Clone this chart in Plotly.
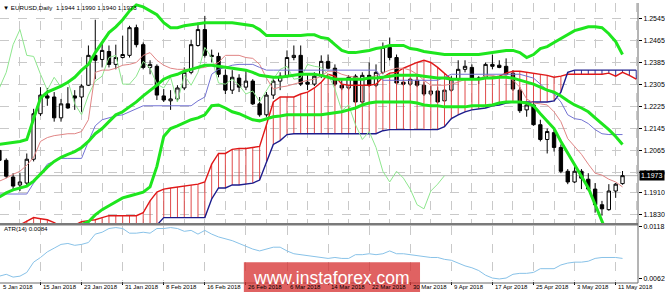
import pandas as pd
import plotly.graph_objects as go

# ---------------- data ----------------
dates = pd.bdate_range("2018-01-05", "2018-05-14")  # 92 daily bars

open_ = [1.2065,1.2029,1.1968,1.1939,1.1946,1.2033,1.2199,1.2264,1.2260,1.2184,
         1.2235,1.2264,1.2260,1.2303,1.2412,1.2397,1.2426,1.2379,1.2404,1.2412,
         1.2513,1.2451,1.2368,1.2372,1.2264,1.2246,1.2253,1.2293,1.2350,1.2448,
         1.2506,1.2412,1.2408,1.2339,1.2285,1.2329,1.2296,1.2318,1.2235,1.2195,
         1.2267,1.2318,1.2336,1.2404,1.2412,1.2314,1.2307,1.2336,1.2390,1.2365,
         1.2303,1.2293,1.2336,1.2242,1.2339,1.2303,1.2350,1.2441,1.2404,1.2314,
         1.2307,1.2321,1.2303,1.2271,1.2282,1.2246,1.2285,1.2325,1.2361,1.2368,
         1.2325,1.2332,1.2379,1.2376,1.2372,1.2347,1.2285,1.2213,1.2231,1.2159,
         1.2105,1.2130,1.2076,1.1989,1.1950,1.1989,1.1960,1.1924,1.1867,1.1849,
         1.1917,1.1944]
high = [1.2087,1.2036,1.1982,1.1982,1.2054,1.2217,1.2296,1.2293,1.2278,1.2253,
        1.2296,1.2285,1.2307,1.2448,1.2542,1.2459,1.2448,1.2451,1.2484,1.2520,
        1.2524,1.2459,1.2394,1.2379,1.2289,1.2285,1.2303,1.2368,1.2469,1.2531,
        1.2556,1.2433,1.2422,1.2361,1.2358,1.2343,1.2361,1.2325,1.2260,1.2278,
        1.2332,1.2350,1.2430,1.2448,1.2448,1.2343,1.2350,1.2412,1.2415,1.2379,
        1.2321,1.2339,1.2343,1.2350,1.2386,1.2379,1.2459,1.2477,1.2415,1.2332,
        1.2329,1.2336,1.2314,1.2300,1.2296,1.2314,1.2336,1.2394,1.2394,1.2379,
        1.2336,1.2386,1.2415,1.2394,1.2401,1.2358,1.2296,1.2242,1.2242,1.2177,
        1.2145,1.2141,1.2087,1.1997,1.2011,1.1997,1.1982,1.1946,1.1881,1.1942,
        1.1946,1.1990]
low = [1.2018,1.1964,1.1917,1.1917,1.1935,1.2025,1.2191,1.2228,1.2170,1.2170,
       1.2217,1.2213,1.2206,1.2300,1.2325,1.2368,1.2368,1.2361,1.2401,1.2404,
       1.2441,1.2361,1.2343,1.2249,1.2242,1.2213,1.2242,1.2285,1.2343,1.2444,
       1.2404,1.2386,1.2332,1.2271,1.2271,1.2278,1.2285,1.2231,1.2188,1.2188,
       1.2253,1.2285,1.2329,1.2394,1.2300,1.2285,1.2300,1.2329,1.2361,1.2300,
       1.2285,1.2285,1.2235,1.2235,1.2296,1.2296,1.2343,1.2394,1.2303,1.2300,
       1.2300,1.2296,1.2264,1.2264,1.2238,1.2242,1.2278,1.2318,1.2350,1.2321,
       1.2307,1.2325,1.2361,1.2365,1.2343,1.2282,1.2202,1.2188,1.2155,1.2098,
       1.2054,1.2061,1.1982,1.1942,1.1946,1.1924,1.1917,1.1838,1.1827,1.1845,
       1.1892,1.1940]
close = [1.2029,1.1971,1.1935,1.1950,1.2033,1.2199,1.2267,1.2256,1.2184,1.2235,
         1.2220,1.2256,1.2300,1.2412,1.2394,1.2430,1.2379,1.2404,1.2415,1.2513,
         1.2451,1.2368,1.2379,1.2267,1.2249,1.2253,1.2293,1.2350,1.2451,1.2506,
         1.2412,1.2408,1.2343,1.2285,1.2332,1.2296,1.2318,1.2235,1.2195,1.2267,
         1.2318,1.2336,1.2404,1.2412,1.2307,1.2307,1.2336,1.2390,1.2365,1.2307,
         1.2293,1.2332,1.2242,1.2339,1.2303,1.2350,1.2441,1.2404,1.2311,1.2307,
         1.2325,1.2303,1.2271,1.2282,1.2242,1.2285,1.2325,1.2361,1.2372,1.2325,
         1.2329,1.2379,1.2372,1.2368,1.2343,1.2289,1.2210,1.2231,1.2159,1.2105,
         1.2134,1.2076,1.1989,1.1950,1.1989,1.1964,1.1924,1.1867,1.1852,1.1917,
         1.1942,1.1973]

bb_upper = [1.2087,1.2090,1.2094,1.2098,1.2105,1.2177,1.2256,1.2278,1.2289,1.2300,
            1.2314,1.2332,1.2358,1.2379,1.2422,1.2459,1.2495,1.2516,1.2542,1.2574,
            1.2596,1.2589,1.2574,1.2560,1.2531,1.2513,1.2513,1.2520,1.2524,1.2527,
            1.2531,1.2531,1.2531,1.2531,1.2531,1.2527,1.2524,1.2520,1.2506,1.2484,
            1.2484,1.2484,1.2484,1.2484,1.2484,1.2487,1.2487,1.2477,1.2473,1.2451,
            1.2430,1.2422,1.2422,1.2426,1.2430,1.2437,1.2441,1.2448,1.2448,1.2448,
            1.2437,1.2433,1.2426,1.2422,1.2419,1.2415,1.2415,1.2415,1.2415,1.2415,
            1.2415,1.2419,1.2422,1.2426,1.2430,1.2430,1.2422,1.2404,1.2415,1.2437,
            1.2444,1.2459,1.2473,1.2487,1.2502,1.2509,1.2516,1.2516,1.2513,1.2491,
            1.2462,1.2415]
bb_middle = [1.1895,1.1910,1.1921,1.1928,1.1935,1.1953,1.1978,1.2004,1.2025,1.2040,
             1.2051,1.2061,1.2076,1.2098,1.2126,1.2145,1.2170,1.2195,1.2206,1.2224,
             1.2242,1.2264,1.2282,1.2303,1.2325,1.2336,1.2343,1.2354,1.2361,1.2368,
             1.2376,1.2376,1.2372,1.2368,1.2365,1.2361,1.2358,1.2350,1.2339,1.2336,
             1.2332,1.2332,1.2336,1.2339,1.2343,1.2343,1.2343,1.2339,1.2332,1.2325,
             1.2325,1.2325,1.2325,1.2325,1.2329,1.2329,1.2332,1.2336,1.2339,1.2339,
             1.2339,1.2339,1.2336,1.2332,1.2329,1.2329,1.2325,1.2325,1.2325,1.2325,
             1.2325,1.2329,1.2329,1.2332,1.2332,1.2329,1.2321,1.2314,1.2307,1.2296,
             1.2285,1.2278,1.2264,1.2246,1.2231,1.2220,1.2206,1.2184,1.2163,1.2141,
             1.2116,1.2087]
bb_lower = [1.1646,1.1657,1.1672,1.1682,1.1693,1.1701,1.1715,1.1737,1.1755,1.1769,
            1.1784,1.1787,1.1794,1.1805,1.1830,1.1849,1.1863,1.1877,1.1892,1.1899,
            1.1906,1.1913,1.1932,1.2007,1.2116,1.2145,1.2155,1.2166,1.2177,1.2184,
            1.2195,1.2228,1.2231,1.2220,1.2206,1.2199,1.2188,1.2177,1.2173,1.2181,
            1.2188,1.2191,1.2195,1.2195,1.2195,1.2195,1.2195,1.2195,1.2199,1.2202,
            1.2206,1.2213,1.2220,1.2231,1.2238,1.2242,1.2242,1.2242,1.2242,1.2242,
            1.2242,1.2238,1.2231,1.2228,1.2228,1.2224,1.2224,1.2224,1.2224,1.2228,
            1.2228,1.2228,1.2231,1.2238,1.2242,1.2242,1.2242,1.2238,1.2228,1.2199,
            1.2170,1.2145,1.2098,1.2054,1.2015,1.1971,1.1928,1.1863,1.1802,1.1744,
            1.1686,1.1628]

tenkan = [1.1953,1.1964,1.1978,1.1989,1.2011,1.2040,1.2098,1.2112,1.2119,1.2123,
          1.2126,1.2126,1.2134,1.2177,1.2350,1.2358,1.2358,1.2365,1.2376,1.2379,
          1.2386,1.2412,1.2422,1.2394,1.2376,1.2365,1.2361,1.2361,1.2361,1.2365,
          1.2368,1.2376,1.2386,1.2412,1.2412,1.2412,1.2404,1.2401,1.2379,1.2329,
          1.2289,1.2296,1.2300,1.2307,1.2314,1.2321,1.2325,1.2336,1.2354,1.2354,
          1.2343,1.2336,1.2332,1.2325,1.2329,1.2339,1.2347,1.2358,1.2365,1.2365,
          1.2358,1.2343,1.2321,1.2303,1.2303,1.2303,1.2307,1.2314,1.2325,1.2325,
          1.2325,1.2339,1.2339,1.2332,1.2339,1.2321,1.2296,1.2253,1.2238,1.2235,
          1.2231,1.2206,1.2170,1.2108,1.2080,1.2051,1.2015,1.1982,1.1975,1.1960,
          1.1950,1.1932]
kijun = [1.1906,1.1906,1.1906,1.1906,1.1906,1.1946,1.1982,1.2015,1.2025,1.2036,
         1.2036,1.2036,1.2036,1.2098,1.2155,1.2177,1.2184,1.2191,1.2195,1.2206,
         1.2217,1.2228,1.2228,1.2228,1.2228,1.2228,1.2228,1.2228,1.2228,1.2246,
         1.2260,1.2343,1.2361,1.2368,1.2376,1.2379,1.2379,1.2379,1.2368,1.2358,
         1.2358,1.2358,1.2358,1.2358,1.2358,1.2358,1.2358,1.2358,1.2358,1.2358,
         1.2358,1.2358,1.2358,1.2358,1.2358,1.2358,1.2321,1.2321,1.2321,1.2321,
         1.2321,1.2321,1.2321,1.2321,1.2321,1.2332,1.2343,1.2343,1.2343,1.2343,
         1.2343,1.2343,1.2343,1.2343,1.2343,1.2343,1.2343,1.2336,1.2329,1.2307,
         1.2285,1.2271,1.2242,1.2195,1.2181,1.2177,1.2163,1.2141,1.2126,1.2123,
         1.2123,1.2123]

# Senkou spans, already displaced 26 bars forward (94 positions incl. 2 future bars)
span_a = [1.1755,1.1765,1.1780,1.1794,1.1809,1.1820,1.1816,1.1812,1.1802,1.1787,
          1.1780,1.1794,1.1805,1.1809,1.1812,1.1820,1.1827,1.1827,1.1827,1.1827,
          1.1827,1.1838,1.1881,1.1913,1.1924,1.1928,1.1932,1.1935,1.1939,1.1942,
          1.1950,1.2015,1.2054,1.2054,1.2069,1.2072,1.2072,1.2076,1.2080,1.2159,
          1.2242,1.2260,1.2260,1.2260,1.2271,1.2278,1.2293,1.2314,1.2343,1.2336,
          1.2307,1.2303,1.2303,1.2303,1.2303,1.2307,1.2332,1.2347,1.2350,1.2365,
          1.2376,1.2386,1.2394,1.2386,1.2368,1.2347,1.2325,1.2325,1.2325,1.2325,
          1.2325,1.2329,1.2332,1.2336,1.2347,1.2354,1.2354,1.2350,1.2347,1.2343,
          1.2339,1.2332,1.2336,1.2343,1.2343,1.2343,1.2343,1.2343,1.2343,1.2347,
          1.2336,1.2350,1.2339,1.2325]
span_b = [1.1737,1.1737,1.1737,1.1737,1.1737,1.1737,1.1737,1.1737,1.1737,1.1737,
          1.1737,1.1737,1.1737,1.1737,1.1737,1.1737,1.1737,1.1737,1.1737,1.1737,
          1.1737,1.1737,1.1765,1.1794,1.1820,1.1820,1.1820,1.1820,1.1820,1.1820,
          1.1820,1.1888,1.1928,1.1928,1.1939,1.1939,1.1942,1.1946,1.1957,1.2025,
          1.2087,1.2101,1.2123,1.2126,1.2126,1.2126,1.2126,1.2126,1.2126,1.2126,
          1.2126,1.2126,1.2126,1.2126,1.2126,1.2126,1.2137,1.2141,1.2141,1.2141,
          1.2141,1.2141,1.2141,1.2141,1.2141,1.2152,1.2181,1.2195,1.2206,1.2213,
          1.2217,1.2220,1.2228,1.2231,1.2238,1.2242,1.2242,1.2242,1.2242,1.2242,
          1.2242,1.2246,1.2278,1.2350,1.2358,1.2358,1.2358,1.2358,1.2358,1.2358,
          1.2358,1.2358,1.2358,1.2358]

atr = [0.0065,0.0067,0.0064,0.0065,0.0069,0.0080,0.0085,0.0091,0.0095,0.0099,
       0.0100,0.0098,0.0099,0.0101,0.0110,0.0112,0.0116,0.0117,0.0116,0.0111,
       0.0111,0.0112,0.0111,0.0116,0.0116,0.0117,0.0116,0.0113,0.0114,0.0110,
       0.0114,0.0110,0.0107,0.0105,0.0103,0.0100,0.0097,0.0094,0.0092,0.0094,
       0.0096,0.0096,0.0092,0.0089,0.0088,0.0087,0.0086,0.0085,0.0084,0.0085,
       0.0084,0.0084,0.0088,0.0088,0.0089,0.0088,0.0089,0.0092,0.0089,0.0089,
       0.0088,0.0087,0.0086,0.0085,0.0085,0.0083,0.0082,0.0079,0.0076,0.0074,
       0.0071,0.0066,0.0063,0.0062,0.0063,0.0067,0.0068,0.0068,0.0069,0.0073,
       0.0073,0.0073,0.0077,0.0079,0.0080,0.0080,0.0081,0.0084,0.0085,0.0085,
       0.0085,0.0084]

price_ticks = [1.2545, 1.2465, 1.2385, 1.2305, 1.2225, 1.2145, 1.2065, 1.1985, 1.1910, 1.1830]
atr_ticks = [0.0118, 0.0062]

# ---------------- figure ----------------
FONT = "Liberation Sans, Arial, sans-serif"
n = len(close)
xi = list(range(n))
xc = list(range(len(span_a)))
X_RANGE = [0.087, 93.26]

fig = go.Figure()

# Ichimoku cloud hatching
rx, ry, bx, by = [], [], [], []
for i, (a, b) in enumerate(zip(span_a, span_b)):
    if a >= b:
        rx += [i, i, None]; ry += [a, b, None]
    else:
        bx += [i, i, None]; by += [a, b, None]
fig.add_trace(go.Scatter(x=rx, y=ry, mode="lines", line=dict(color="#e04a4a", width=1), hoverinfo="skip"))
fig.add_trace(go.Scatter(x=bx, y=by, mode="lines", line=dict(color="#30309a", width=1), hoverinfo="skip"))
fig.add_trace(go.Scatter(x=xc, y=span_a, mode="lines", line=dict(color="#e01818", width=1.4)))
fig.add_trace(go.Scatter(x=xc, y=span_b, mode="lines", line=dict(color="#1c1c8c", width=1.4)))

# Chikou span (close displaced 26 bars back)
fig.add_trace(go.Scatter(x=[i - 26 for i in xi[26:]], y=close[26:], mode="lines",
                         line=dict(color="#8ee68e", width=1)))
fig.add_trace(go.Scatter(x=xi, y=tenkan, mode="lines", line=dict(color="#e08585", width=1)))
fig.add_trace(go.Scatter(x=xi, y=kijun, mode="lines", line=dict(color="#7272d2", width=1)))

fig.add_trace(go.Candlestick(
    x=xi, open=open_, high=high, low=low, close=close,
    increasing=dict(line=dict(color="black", width=1), fillcolor="white"),
    decreasing=dict(line=dict(color="black", width=1), fillcolor="black"),
    whiskerwidth=0, hoverinfo="skip"))

for band in (bb_upper, bb_middle, bb_lower):
    fig.add_trace(go.Scatter(x=xi, y=band, mode="lines", line=dict(color="#1ee61e", width=3)))

fig.add_trace(go.Scatter(x=xi, y=atr, mode="lines", line=dict(color="#88c2e8", width=1),
                         xaxis="x2", yaxis="y2"))

W, H = 665, 293
ML, MR, MT, MB = 0, 24, 0, 10
PW, PH = W - ML - MR, H - MT - MB


def py(p):  # pixel row -> paper y
    return (PH - p) / PH


def px(p):
    return p / PW


grid = dict(showgrid=True, gridcolor="#c9c9c9", griddash="dash", gridwidth=1)

fig.update_layout(
    width=W, height=H, margin=dict(l=ML, r=MR, t=MT, b=MB),
    paper_bgcolor="white", plot_bgcolor="white", showlegend=False,
    font=dict(family=FONT, size=7, color="black"),
    xaxis=dict(domain=[0, 1], range=X_RANGE, anchor="y", tickvals=list(range(0, 94, 3)),
               showticklabels=False, ticks="", zeroline=False, rangeslider=dict(visible=False), **grid),
    yaxis=dict(domain=[py(223), 1], range=[1.2603 - 223 * 0.000361, 1.2603], side="right",
               tickvals=price_ticks, ticktext=[f"{v:.4f}" for v in price_ticks],
               ticks="outside", ticklen=3, tickcolor="black", tickfont=dict(size=7),
               zeroline=False, **grid),
    xaxis2=dict(domain=[0, 1], range=X_RANGE, anchor="y2", tickvals=list(range(0, 94, 6)),
                showticklabels=False, ticks="outside", ticklen=3, tickcolor="black",
                zeroline=False, **grid),
    yaxis2=dict(domain=[py(281), py(225)], range=[0.00598, 0.01191], side="right",
                tickvals=atr_ticks, ticktext=[f"{v:.4f}" for v in atr_ticks],
                ticks="outside", ticklen=3, tickcolor="black", tickfont=dict(size=7),
                showgrid=False, zeroline=False),
)

shapes = [
    dict(type="line", xref="paper", yref="paper", x0=0, x1=1, y0=py(223.5), y1=py(223.5),
         line=dict(color="#7a7a7a", width=2.5)),
    dict(type="line", xref="paper", yref="paper", x0=1, x1=1, y0=0, y1=1,
         line=dict(color="#6a6a6a", width=1)),
    dict(type="line", xref="paper", yref="paper", x0=0, x1=1, y0=0, y1=0,
         line=dict(color="#6a6a6a", width=1)),
    dict(type="line", xref="paper", yref="y", x0=0, x1=1, y0=close[-1], y1=close[-1],
         line=dict(color="#b4b4b4", width=1), layer="below"),
    dict(type="rect", xref="paper", yref="paper", x0=px(245), x1=px(422), y0=py(292), y1=py(262),
         fillcolor="rgba(214,48,48,0.76)", line=dict(width=0), layer="above"),
]

ann = []
ann.append(dict(xref="paper", yref="paper", x=px(1), y=py(5), xanchor="left", yanchor="middle",
                showarrow=False, font=dict(size=6.2, family=FONT),
                text=f"\u25bc EURUSD,Daily  {open_[-1]:.4f} {high[-1]:.4f} {low[-1]:.4f} {close[-1]:.4f}"))
ann.append(dict(xref="paper", yref="paper", x=px(2), y=py(227.5), xanchor="left", yanchor="middle",
                showarrow=False, font=dict(size=6.2, family=FONT), text=f"ATR(14) {atr[-1]:.4f}"))
for i in range(0, n, 6):
    d = dates[i]
    ann.append(dict(xref="x2", yref="paper", x=max(i, X_RANGE[0]), y=py(287.5),
                    xanchor="left", yanchor="middle", xshift=0.5, showarrow=False,
                    font=dict(size=6.0, family=FONT), text=f"{d.day} {d.strftime('%b %Y')}"))
ann.append(dict(xref="paper", yref="y", x=1.0, y=close[-1], xanchor="left", yanchor="middle",
                xshift=1, showarrow=False, bgcolor="black", borderpad=1,
                font=dict(size=7, color="white", family=FONT), text=f"{close[-1]:.4f}"))
ann.append(dict(xref="paper", yref="paper", x=px(333), y=py(277.5), xanchor="center", yanchor="middle",
                showarrow=False, font=dict(size=17.5, color="white", family=FONT),
                text="www.instaforex.com"))

fig.update_layout(shapes=shapes, annotations=ann)
fig.write_html("out.html")
